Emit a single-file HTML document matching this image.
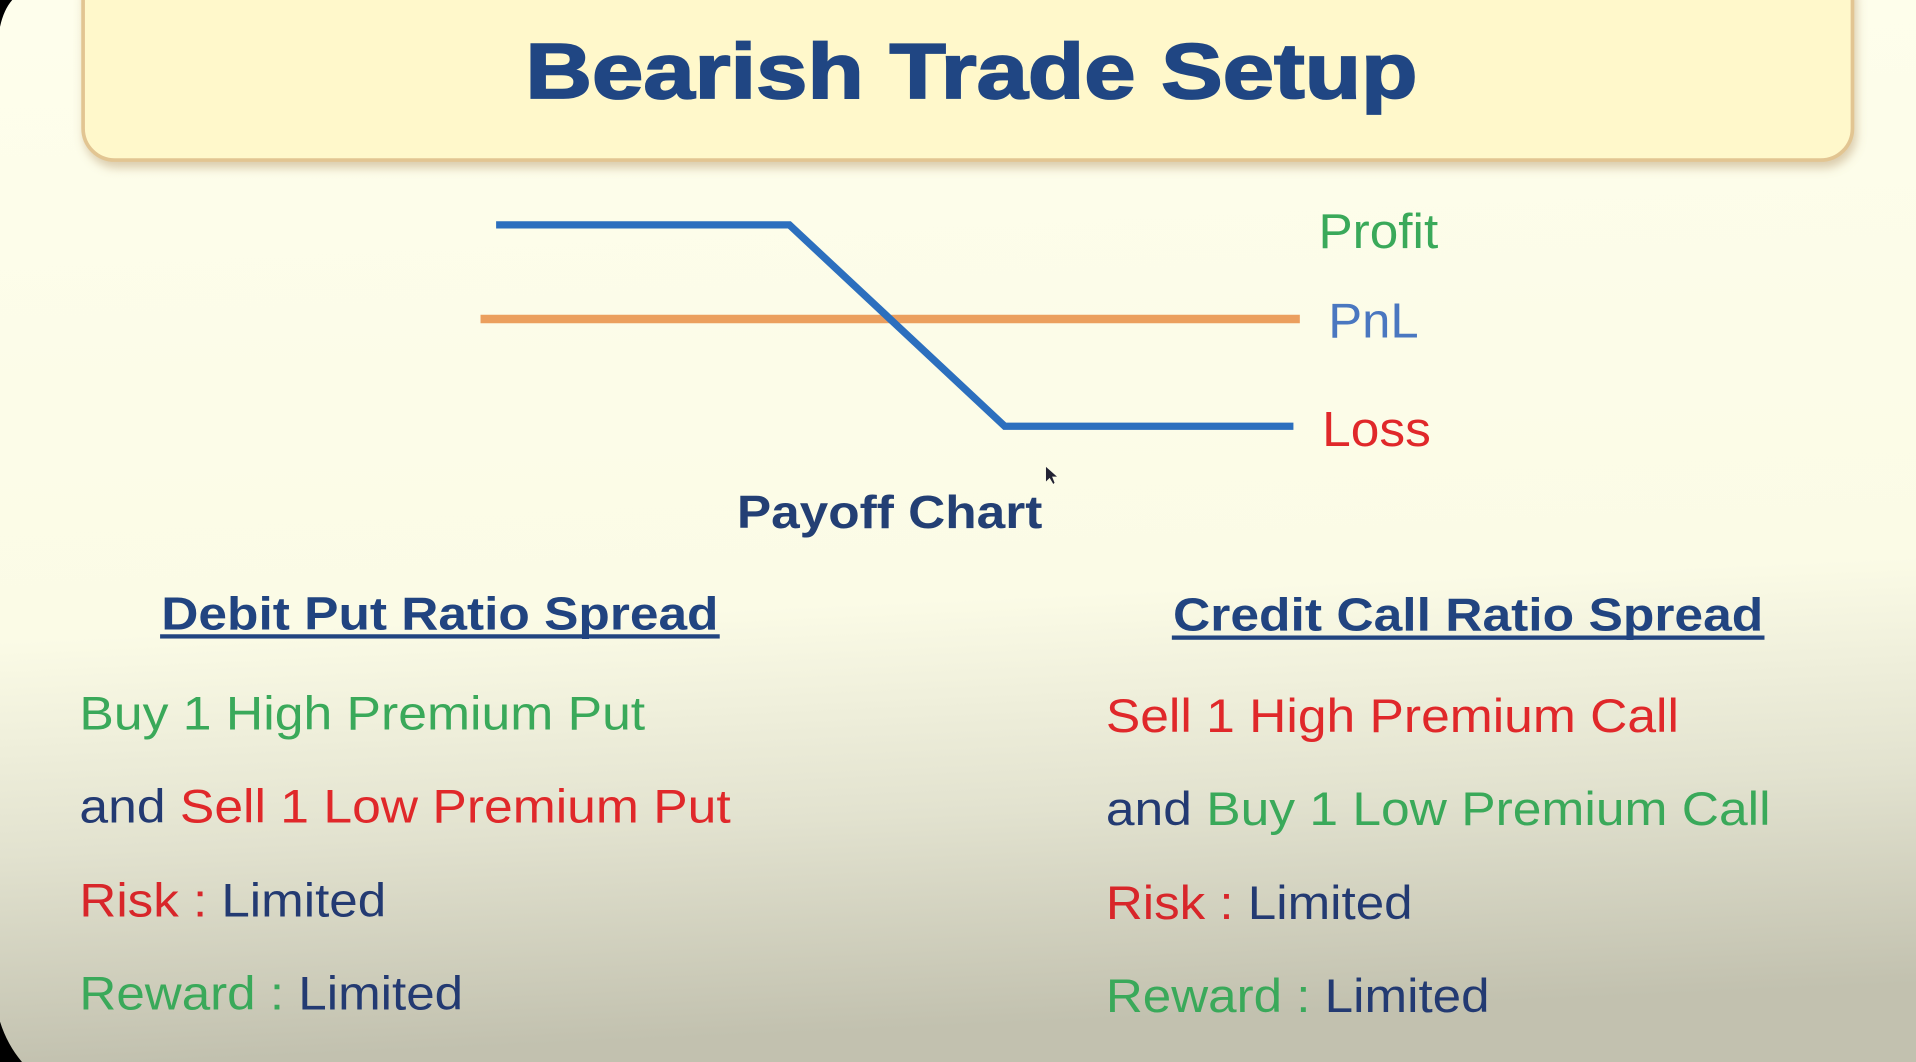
<!DOCTYPE html>
<html><head><meta charset="utf-8"><style>
html,body{margin:0;padding:0;width:1916px;height:1062px;overflow:hidden;background:#fdfde9;}
svg{display:block;}
text{font-family:"Liberation Sans",Arial,sans-serif;}
</style></head><body>
<svg width="1916" height="1062" viewBox="0 0 1568 869" preserveAspectRatio="none" xmlns="http://www.w3.org/2000/svg">
<defs>
<linearGradient id="bg" x1="0" y1="0" x2="0.08" y2="1">
<stop offset="0" stop-color="#fefeec"/>
<stop offset="0.6" stop-color="#fbfbe6"/>
<stop offset="0.8" stop-color="#e2e2cf"/>
<stop offset="1" stop-color="#c2c1af"/>
</linearGradient>
<filter id="sh" x="-5%" y="-20%" width="110%" height="150%"><feDropShadow dx="2" dy="5" stdDeviation="4" flood-color="#b09060" flood-opacity="0.45"/></filter>
</defs>
<rect x="0" y="0" width="1568" height="869" fill="url(#bg)"/>
<path d="M0 0 H10 Q3 8 0 22 Z" fill="#000"/>
<path d="M0 836 Q6 855 18 869 H0 Z" fill="#000"/>
<rect x="68" y="-30" width="1448" height="161" rx="26" fill="#fff8cb" stroke="#e2c592" stroke-width="3" filter="url(#sh)"/>
<text x="430" y="80" font-size="64" font-weight="bold" fill="#204683" stroke="#204683" stroke-width="1.5" textLength="730" lengthAdjust="spacingAndGlyphs">Bearish Trade Setup</text>

<g id="chart"></g>

<text x="1079" y="203" font-size="40" fill="#3aa95a" textLength="98" lengthAdjust="spacingAndGlyphs">Profit</text>
<text x="1087" y="276" font-size="40" fill="#4a77c0" textLength="74" lengthAdjust="spacingAndGlyphs">PnL</text>
<text x="1082" y="365" font-size="40" fill="#e0282a" textLength="89" lengthAdjust="spacingAndGlyphs">Loss</text>
<path d="M856 382 L856 394 L859 391 L862 396 L863 395 L861 390 L865 390 Z" fill="#223"/>
<text x="603" y="432" font-size="38" font-weight="bold" fill="#233f74" textLength="250" lengthAdjust="spacingAndGlyphs">Payoff Chart</text>

<text x="132" y="515" font-size="38" font-weight="bold" fill="#214480" textLength="456" lengthAdjust="spacingAndGlyphs">Debit Put Ratio Spread</text>
<rect x="131" y="519" width="458" height="3.5" fill="#214480"/>
<text x="960" y="516" font-size="38" font-weight="bold" fill="#214480" textLength="483" lengthAdjust="spacingAndGlyphs">Credit Call Ratio Spread</text>
<rect x="959" y="520" width="485" height="3.5" fill="#214480"/>

<g font-size="39">
<text x="65" y="597" fill="#3aa95a" textLength="463" lengthAdjust="spacingAndGlyphs">Buy 1 High Premium Put</text>
<text x="65" y="673" textLength="533" lengthAdjust="spacingAndGlyphs"><tspan fill="#233a72">and </tspan><tspan fill="#e0282a">Sell 1 Low Premium Put</tspan></text>
<text x="65" y="750" textLength="251" lengthAdjust="spacingAndGlyphs"><tspan fill="#d8262a">Risk : </tspan><tspan fill="#233a72">Limited</tspan></text>
<text x="65" y="826" textLength="314" lengthAdjust="spacingAndGlyphs"><tspan fill="#3aa95a">Reward : </tspan><tspan fill="#233a72">Limited</tspan></text>

<text x="905" y="599" fill="#e0282a" textLength="469" lengthAdjust="spacingAndGlyphs">Sell 1 High Premium Call</text>
<text x="905" y="675" textLength="544" lengthAdjust="spacingAndGlyphs"><tspan fill="#233a72">and </tspan><tspan fill="#3aa95a">Buy 1 Low Premium Call</tspan></text>
<text x="905" y="752" textLength="251" lengthAdjust="spacingAndGlyphs"><tspan fill="#d8262a">Risk : </tspan><tspan fill="#233a72">Limited</tspan></text>
<text x="905" y="828" textLength="314" lengthAdjust="spacingAndGlyphs"><tspan fill="#3aa95a">Reward : </tspan><tspan fill="#233a72">Limited</tspan></text>
</g>
</svg>
<script>
// Payoff data (abstract units): price on x, PnL on y
const payoffPrices = [0, 3.2, 5.55, 8.7];
const payoffValues = [1.0, 1.0, -1.14, -1.14];
const pnlLinePrices = [-0.17, 8.77];
const pnlLineValues = [0, 0];

function xScale(p){ return 406 + p * 75; }
function yScale(v){ return 261 - v * 77; }

const NS = 'http://www.w3.org/2000/svg';
const chart = document.getElementById('chart');

const zero = document.createElementNS(NS, 'line');


zero.setAttribute('x1', xScale(pnlLinePrices[0]));
zero.setAttribute('x2', xScale(pnlLinePrices[1]));
zero.setAttribute('y1', yScale(pnlLineValues[0]));
zero.setAttribute('y2', yScale(pnlLineValues[1]));
zero.setAttribute('stroke', '#eb9f5e');
zero.setAttribute('stroke-width', '7');
chart.appendChild(zero);

const line = document.createElementNS(NS, 'polyline');


line.setAttribute('points', payoffPrices.map((p, i) => xScale(p) + ',' + yScale(payoffValues[i])).join(' '));
line.setAttribute('fill', 'none');
line.setAttribute('stroke', '#2c6fbe');
line.setAttribute('stroke-width', '6');
line.setAttribute('stroke-linejoin', 'miter');
chart.appendChild(line);
</script>
</body></html>
